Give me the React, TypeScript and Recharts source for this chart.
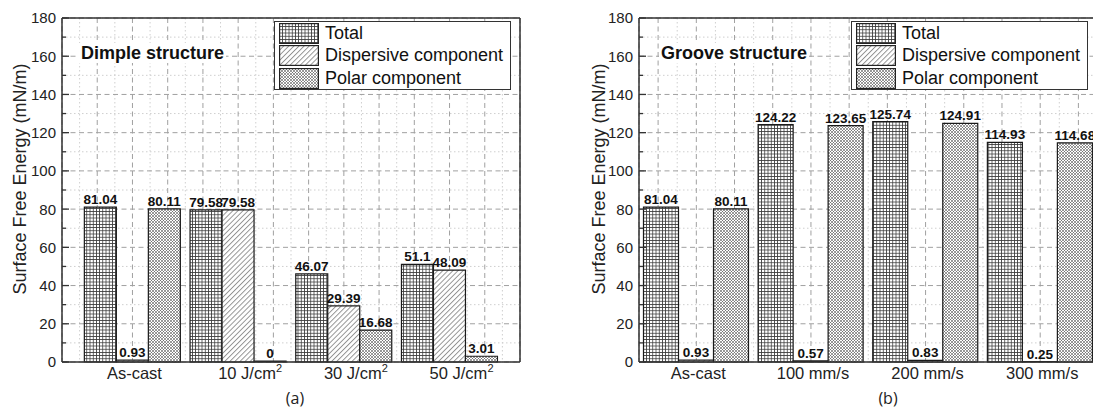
import React from 'react';
import { BarChart, Bar, XAxis, YAxis, CartesianGrid, LabelList, ReferenceLine } from 'recharts';

const FONT = '"Liberation Sans", Arial, Helvetica, sans-serif';

// values
const dimpleCats = ['As-cast', '10 J/cm²', '30 J/cm²', '50 J/cm²'];
const dimpleTotal = [81.04, 79.58, 46.07, 51.1];
const dimpleDisp = [0.93, 79.58, 29.39, 48.09];
const dimplePolar = [80.11, 0, 16.68, 3.01];

const grooveCats = ['As-cast', '100 mm/s', '200 mm/s', '300 mm/s'];
const grooveTotal = [81.04, 124.22, 125.74, 114.93];
const grooveDisp = [0.93, 0.57, 0.83, 0.25];
const groovePolar = [80.11, 123.65, 124.91, 114.68];

const yTicks = [0, 10, 20, 30, 40, 50, 60, 70, 80, 90, 100, 110, 120, 130, 140, 150, 160, 170, 180];
const yMajorGrid = [20, 40, 60, 80, 100, 120, 140, 160];
const yMinorGrid = [10, 30, 50, 70, 90, 110, 130, 150, 170];
// vertical grid in thirds of a category (group i sits at 3*i)
const xMajorGrid = [2, 3, 4, 5, 6, 7, 8, 9, 10, 11, 12, 13];
const xMinorGrid = [1.5, 2.5, 3.5, 4.5, 5.5, 6.5, 7.5, 8.5, 9.5, 10.5, 11.5, 12.5, 13.5];

const legendItems = [
  { name: 'Total', pat: 'patTotal' },
  { name: 'Dispersive component', pat: 'patDisp' },
  { name: 'Polar component', pat: 'patPolar' },
];

const build = (cats: string[], t: number[], d: number[], p: number[]) =>
  cats.map((c, i) => ({ cat: c, gx: (i + 1) * 3, total: t[i], disp: d[i], polar: p[i] }));

function YTick({ x, y, payload }: any) {
  const v = payload.value;
  const major = v % 20 === 0;
  const ax = x + 6;
  return (
    <g>
      <line x1={ax} x2={ax + (major ? 7 : 4)} y1={y} y2={y} stroke="#333" strokeWidth={1.3} />
      {major && (
        <text x={x} y={y} dy="0.36em" textAnchor="end" fontSize={15} fill="#222" fontFamily={FONT}>
          {v}
        </text>
      )}
    </g>
  );
}

function RTick({ x, y, payload }: any) {
  const major = payload.value % 20 === 0;
  return <line x1={x} x2={x - (major ? 7 : 4)} y1={y} y2={y} stroke="#333" strokeWidth={1.3} />;
}

function XTick({ x, y, payload }: any) {
  const label: string = payload.value;
  const sup = label.endsWith('²');
  const main = sup ? label.slice(0, -1) : label;
  return (
    <text x={x} y={y} dx={sup ? 12 : 2} dy="0.71em" textAnchor="middle" fontSize={16.5} fill="#222" fontFamily={FONT}>
      {main}
      {sup && (
        <tspan fontSize={11} dy={-7}>
          2
        </tspan>
      )}
    </text>
  );
}

interface PanelProps {
  data: any[];
  title: string;
  caption: string;
  left: number;
  width: number;
  marginLeft: number;
  marginRight: number;
  gridDomain: [number, number];
  catPad: number;
  catGap: number;
  labelX: number;
  legendX: number;
  titleX: number;
  captionX: number;
}

const labelStyle = { fontSize: 13.5, fontWeight: 700, fill: '#111', fontFamily: FONT };
const zeroMin = (v: any) => (Number(v) === 0 ? 1 : 0);

function Panel(p: PanelProps) {
  return (
    <>
      <div style={{ position: 'absolute', left: p.left, top: 0 }}>
        <BarChart
          width={p.width}
          height={409}
          data={p.data}
          margin={{ top: 18, right: p.marginRight, bottom: 17, left: p.marginLeft }}
          barCategoryGap={p.catGap}
          barGap={0}
          style={{ fontFamily: FONT }}
        >
          <XAxis xAxisId="gmaj" dataKey="gx" type="number" domain={p.gridDomain} ticks={xMajorGrid} hide allowDataOverflow />
          <XAxis xAxisId="gmin" dataKey="gx" type="number" domain={p.gridDomain} ticks={xMinorGrid} hide allowDataOverflow />
          <YAxis yAxisId="ymaj" dataKey="total" type="number" domain={[0, 180]} ticks={yMajorGrid} hide allowDataOverflow />
          <YAxis yAxisId="ymin" dataKey="total" type="number" domain={[0, 180]} ticks={yMinorGrid} hide allowDataOverflow />
          <CartesianGrid xAxisId="gmin" yAxisId="ymin" stroke="#cfcfcf" strokeDasharray="1.5 2.5" />
          <CartesianGrid xAxisId="gmaj" yAxisId="ymaj" stroke="#a0a0a0" strokeDasharray="5 3.5" />
          <XAxis
            xAxisId="cat"
            dataKey="cat"
            padding={{ left: p.catPad, right: p.catPad }}
            height={30}
            tickSize={0}
            tickMargin={5}
            tickLine={false}
            axisLine={{ stroke: '#333', strokeWidth: 1.5 }}
            tick={(t: any) => <XTick {...t} />}
            interval={0}
          />
          <YAxis
            yAxisId="y"
            domain={[0, 180]}
            ticks={yTicks}
            width={62}
            tickSize={0}
            tickMargin={6}
            tickLine={false}
            axisLine={{ stroke: '#333', strokeWidth: 1.5 }}
            tick={(t: any) => <YTick {...t} />}
            interval={0}
          />
          <YAxis
            yAxisId="yr"
            orientation="right"
            dataKey="total"
            type="number"
            domain={[0, 180]}
            ticks={yTicks}
            width={0}
            tickSize={0}
            tickMargin={0}
            tickLine={false}
            axisLine={{ stroke: '#333', strokeWidth: 1.5 }}
            tick={(t: any) => <RTick {...t} />}
            interval={0}
            allowDataOverflow
          />
          <Bar xAxisId="cat" yAxisId="y" dataKey="total" fill="url(#patTotal)" stroke="#1a1a1a" strokeWidth={1.2} minPointSize={zeroMin} isAnimationActive={false}>
            <LabelList dataKey={(d: any) => String(d.total)} position="top" offset={3} {...labelStyle} />
          </Bar>
          <Bar xAxisId="cat" yAxisId="y" dataKey="disp" fill="url(#patDisp)" stroke="#1a1a1a" strokeWidth={1.2} minPointSize={zeroMin} isAnimationActive={false}>
            <LabelList dataKey={(d: any) => String(d.disp)} position="top" offset={3} {...labelStyle} />
          </Bar>
          <Bar xAxisId="cat" yAxisId="y" dataKey="polar" fill="url(#patPolar)" stroke="#1a1a1a" strokeWidth={1.2} minPointSize={zeroMin} isAnimationActive={false}>
            <LabelList dataKey={(d: any) => String(d.polar)} position="top" offset={3} {...labelStyle} />
          </Bar>
          <ReferenceLine xAxisId="gmaj" yAxisId="y" y={180} stroke="#333" strokeWidth={1.5} ifOverflow="visible" />
          <ReferenceLine xAxisId="gmaj" yAxisId="y" x={p.gridDomain[1]} stroke="#333" strokeWidth={1.5} ifOverflow="visible" />
        </BarChart>
      </div>

      <div
        style={{
          position: 'absolute',
          left: p.labelX,
          top: 178.5,
          transform: 'translate(-50%, -50%) rotate(-90deg)',
          whiteSpace: 'nowrap',
          fontFamily: FONT,
          fontSize: 18,
          color: '#222',
        }}
      >
        Surface Free Energy (mN/m)
      </div>

      <div
        style={{
          position: 'absolute',
          left: p.titleX,
          top: 43,
          lineHeight: '20px',
          fontFamily: FONT,
          fontSize: 18,
          fontWeight: 700,
          color: '#111',
          background: '#fff',
          padding: '0 2px',
        }}
      >
        {p.title}
      </div>

      <div
        style={{
          position: 'absolute',
          left: p.legendX,
          top: 20.5,
          width: 237,
          height: 69,
          boxSizing: 'border-box',
          border: '1px solid #333',
          background: '#fff',
          fontFamily: FONT,
          fontSize: 18,
          color: '#111',
          paddingTop: 0.5,
        }}
      >
        {legendItems.map((it) => (
          <div key={it.name} style={{ display: 'flex', alignItems: 'center', height: 22.5 }}>
            <svg width={40} height={21} style={{ marginLeft: 4, flex: 'none' }}>
              <rect x={0.6} y={0.6} width={38.8} height={19.8} fill={`url(#${it.pat})`} stroke="#222" strokeWidth={1.2} />
            </svg>
            <span style={{ marginLeft: 6, whiteSpace: 'nowrap' }}>{it.name}</span>
          </div>
        ))}
      </div>

      <div
        style={{
          position: 'absolute',
          left: p.captionX,
          top: 398,
          lineHeight: '18px',
          transform: 'translate(-50%, -50%)',
          fontFamily: '"Open Sans", "Liberation Sans", sans-serif',
          fontSize: 16,
          color: '#222',
        }}
      >
        {p.caption}
      </div>
    </>
  );
}

export default function App() {
  const dimple = build(dimpleCats, dimpleTotal, dimpleDisp, dimplePolar);
  const groove = build(grooveCats, grooveTotal, grooveDisp, groovePolar);
  return (
    <div
      style={{
        position: 'absolute',
        left: 0,
        top: 0,
        width: 1093,
        height: 409,
        overflow: 'hidden',
        background: '#fff',
      }}
    >
      <svg width={0} height={0} style={{ position: 'absolute' }}>
        <defs>
          <pattern id="patTotal" width={3.2} height={3.2} patternUnits="userSpaceOnUse">
            <rect width={3.2} height={3.2} fill="#fff" />
            <path d="M0 0.4H3.2M0.4 0V3.2" stroke="#3a3a3a" strokeWidth={0.8} />
          </pattern>
          <pattern id="patDisp" width={3.6} height={10} patternUnits="userSpaceOnUse" patternTransform="rotate(45)">
            <rect width={3.6} height={10} fill="#fff" />
            <line x1={0.5} y1={0} x2={0.5} y2={10} stroke="#777" strokeWidth={0.8} />
          </pattern>
          <pattern id="patPolar" width={3} height={3} patternUnits="userSpaceOnUse">
            <rect width={3} height={3} fill="#fff" />
            <path d="M0 0L3 3M3 0L0 3" stroke="#555" strokeWidth={0.6} />
          </pattern>
        </defs>
      </svg>

      <Panel
        data={dimple}
        title="Dimple structure"
        caption="(a)"
        left={0}
        width={550}
        marginLeft={0}
        marginRight={30}
        gridDomain={[1, 14]}
        catPad={17.6}
        catGap={4.75}
        labelX={19.5}
        legendX={274}
        titleX={79}
        captionX={295}
      />
      <Panel
        data={groove}
        title="Groove structure"
        caption="(b)"
        left={550}
        width={560}
        marginLeft={27}
        marginRight={12.5}
        gridDomain={[1.5, 13.5]}
        catPad={0}
        catGap={4.5}
        labelX={598.5}
        legendX={851}
        titleX={659}
        captionX={888}
      />
    </div>
  );
}
